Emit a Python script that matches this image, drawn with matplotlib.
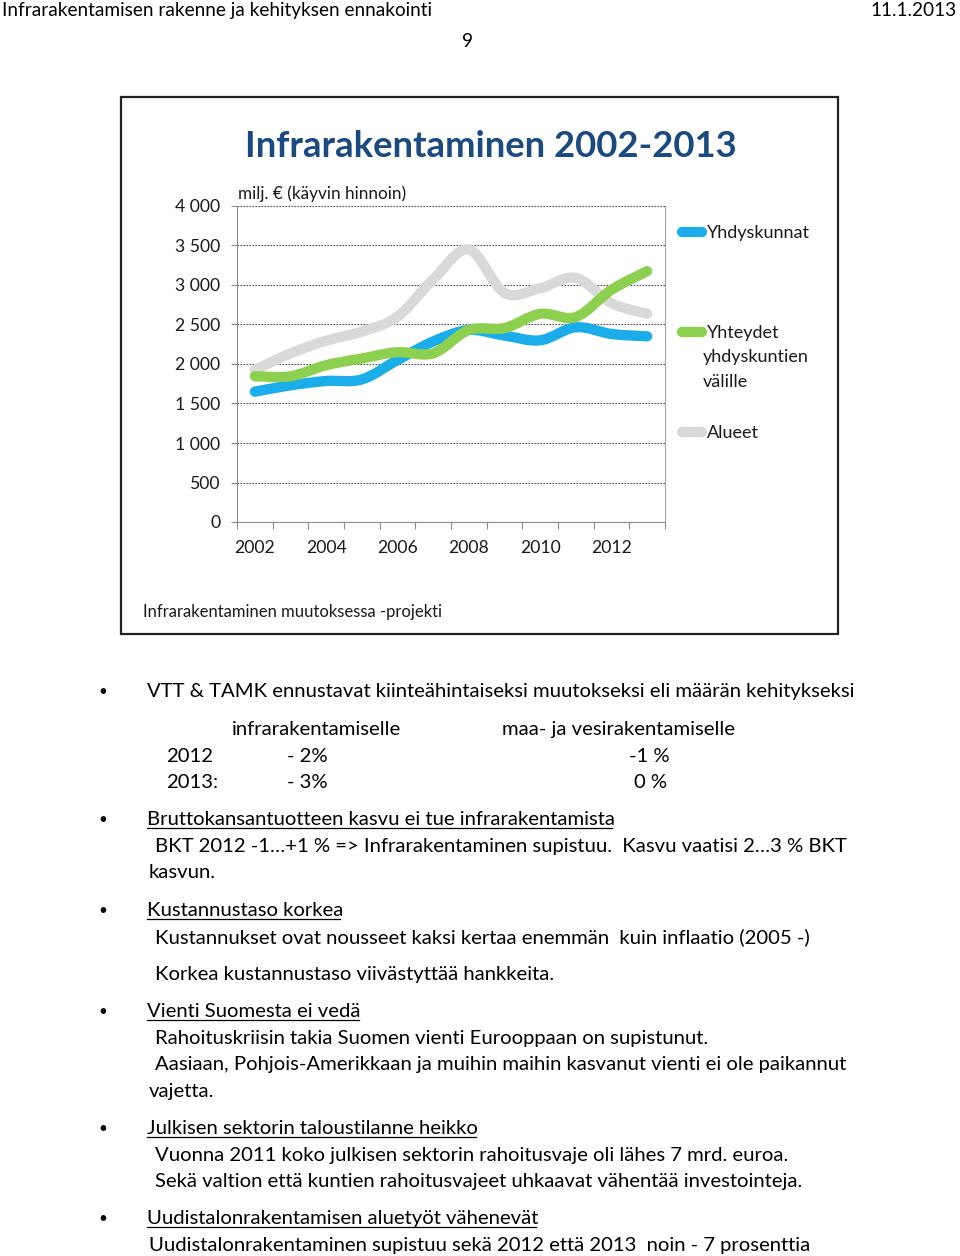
import matplotlib
matplotlib.use("Agg")
import matplotlib.pyplot as plt
import numpy as np
from matplotlib.font_manager import FontProperties
from matplotlib.lines import Line2D
from matplotlib.patches import PathPatch, Rectangle
from matplotlib.path import Path
from matplotlib.textpath import TextPath

# ── Data (milj. €, käyvin hinnoin) ──────────────────────────────────────────
YEARS = list(range(2002, 2014))
YHDYSKUNNAT = [1650, 1730, 1785, 1805, 2050, 2285, 2430, 2360, 2300, 2465, 2380, 2350]
YHTEYDET    = [1845, 1845, 1985, 2070, 2150, 2135, 2430, 2455, 2635, 2595, 2940, 3175]
ALUEET      = [1925, 2135, 2295, 2410, 2600, 3070, 3450, 2900, 2960, 3090, 2770, 2635]

Y_TICKS = [0, 500, 1000, 1500, 2000, 2500, 3000, 3500, 4000]
Y_TICK_LABELS = ["0", "500", "1 000", "1 500", "2 000", "2 500", "3 000", "3 500", "4 000"]
X_TICK_YEARS = [2002, 2004, 2006, 2008, 2010, 2012]

BLUE, GREEN, GRAY = "#1AADEA", "#8DD04F", "#D9D9D9"
NAVY = "#1B4A80"

W, H, DPI = 960, 1256, 100
FONT = ["Lato", "DejaVu Sans"]
plt.rcParams["font.family"] = FONT


def fx(x):
    return x / W


def fy(y):
    return 1 - y / H


def ink_width(s, size, weight="normal"):
    fp = FontProperties(family=FONT, weight=weight)
    w = TextPath((0, 0), s, size=100, prop=fp).get_extents().width
    return w * size / 100 * DPI / 72


def fit(s, width_px, weight="normal"):
    return width_px / ink_width(s, 100, weight) * 100


def smooth_path(xs, ys):
    # Excel-style smoothed line: Catmull-Rom segments as cubic Beziers
    pts = np.column_stack([xs, ys]).astype(float)
    p = np.vstack([pts[0], pts, pts[-1]])
    verts, codes = [pts[0]], [Path.MOVETO]
    for i in range(len(pts) - 1):
        p0, p1, p2, p3 = p[i], p[i + 1], p[i + 2], p[i + 3]
        verts += [p1 + (p2 - p0) / 6, p2 - (p3 - p1) / 6, p2]
        codes += [Path.CURVE4] * 3
    return Path(verts, codes)


fig = plt.figure(figsize=(W / DPI, H / DPI), dpi=DPI)
fig.patch.set_facecolor("white")


def put(x, y, s, size, **kw):
    kw.setdefault("va", "baseline")
    kw.setdefault("color", "black")
    return fig.text(fx(x), fy(y), s, fontsize=size, **kw)


# ── Page header ─────────────────────────────────────────────────────────────
hdr = fit("Infrarakentamisen rakenne ja kehityksen ennakointi", 427)
put(2, 16, "Infrarakentamisen rakenne ja kehityksen ennakointi", hdr)
put(957, 16, "11.1.2013", hdr, ha="right")
put(468, 47, "9", hdr, ha="center")

# ── Chart frame ─────────────────────────────────────────────────────────────
fig.add_artist(Rectangle((fx(121), fy(634)), (838 - 121) / W, (634 - 97) / H,
                         transform=fig.transFigure, fill=False, ec="#222222", lw=1.6))

title = "Infrarakentaminen 2002-2013"
put(491, 157, title, fit(title, 489, "bold"), ha="center", weight="bold", color=NAVY)

ax = fig.add_axes([fx(237), fy(522), (665 - 237) / W, (522 - 206) / H])
x = np.arange(len(YEARS))
for vals, col in [(ALUEET, GRAY), (YHDYSKUNNAT, BLUE), (YHTEYDET, GREEN)]:
    ax.add_patch(PathPatch(smooth_path(x, vals), fill=False, ec=col, lw=7.4,
                           capstyle="round", joinstyle="round", zorder=3))

ax.set_xlim(-0.5, len(YEARS) - 0.5)
ax.set_ylim(0, 4000)
ax.set_yticks(Y_TICKS)
ax.set_yticklabels(Y_TICK_LABELS)
ax.set_xticks([YEARS.index(y) for y in X_TICK_YEARS])
ax.set_xticklabels([str(y) for y in X_TICK_YEARS])
ax.set_xticks(np.arange(-0.5, len(YEARS)), minor=True)
tick_fs = fit("2002", 39)
ax.tick_params(axis="x", which="major", length=0, pad=13, labelsize=tick_fs, labelcolor="#1a1a1a")
ax.tick_params(axis="x", which="minor", length=5, color="#8c8c8c", width=0.8)
ax.tick_params(axis="y", length=4, color="#8c8c8c", width=0.8, pad=8,
               labelsize=tick_fs, labelcolor="#1a1a1a")
ax.grid(axis="y", color="#4d4d4d", linestyle=(0, (1.5, 1.2)), lw=0.8, zorder=1)
ax.spines["top"].set_visible(False)
ax.spines["right"].set_linestyle((0, (1, 1)))
ax.spines["right"].set_color("#a6a6a6")
ax.spines["left"].set_color("#8c8c8c")
ax.spines["bottom"].set_color("#8c8c8c")
ax.set_facecolor("white")

ylab = "milj. € (käyvin hinnoin)"
put(238, 199, ylab, fit(ylab, 165), color="#1a1a1a")
foot = "Infrarakentaminen muutoksessa -projekti"
put(143, 617, foot, fit(foot, 298), color="#1a1a1a")

# legend
leg_fs = fit("Yhdyskunnat", 103)
for (yy, col) in [(232, BLUE), (332, GREEN), (432, GRAY)]:
    fig.add_artist(Line2D([fx(682), fx(702)], [fy(yy), fy(yy)], transform=fig.transFigure,
                          color=col, lw=7.4, solid_capstyle="round"))
put(707, 238, "Yhdyskunnat", leg_fs, color="#1a1a1a")
put(707, 338, "Yhteydet", leg_fs, color="#1a1a1a")
put(703, 362, "yhdyskuntien", leg_fs, color="#1a1a1a")
put(703, 387, "välille", leg_fs, color="#1a1a1a")
put(707, 438, "Alueet", leg_fs, color="#1a1a1a")

# ── Bullet text ─────────────────────────────────────────────────────────────
lead = "VTT & TAMK ennustavat kiinteähintaiseksi muutokseksi eli määrän kehitykseksi"
fs = fit(lead, 706)

lines = [
    (147, 697, lead, True, False),
    (232, 735, "infrarakentamiselle", False, False),
    (502, 735, "maa- ja vesirakentamiselle", False, False),
    (166, 762, "2012", False, False),
    (287, 762, "- 2%", False, False),
    (629, 762, "-1 %", False, False),
    (166, 788, "2013:", False, False),
    (287, 788, "- 3%", False, False),
    (634, 788, "0 %", False, False),
    (147, 825, "Bruttokansantuotteen kasvu ei tue infrarakentamista", True, True),
    (155, 852, "BKT 2012 -1…+1 % => Infrarakentaminen supistuu.  Kasvu vaatisi 2…3 % BKT", False, False),
    (149, 878, "kasvun.", False, False),
    (147, 916, "Kustannustaso korkea", True, True),
    (155, 943, "Kustannukset ovat nousseet kaksi kertaa enemmän  kuin inflaatio (2005 -)", False, False),
    (155, 980, "Korkea kustannustaso viivästyttää hankkeita.", False, False),
    (147, 1017, "Vienti Suomesta ei vedä", True, True),
    (155, 1044, "Rahoituskriisin takia Suomen vienti Eurooppaan on supistunut.", False, False),
    (155, 1070, "Aasiaan, Pohjois-Amerikkaan ja muihin maihin kasvanut vienti ei ole paikannut", False, False),
    (149, 1097, "vajetta.", False, False),
    (147, 1134, "Julkisen sektorin taloustilanne heikko", True, True),
    (155, 1161, "Vuonna 2011 koko julkisen sektorin rahoitusvaje oli lähes 7 mrd. euroa.", False, False),
    (155, 1187, "Sekä valtion että kuntien rahoitusvajeet uhkaavat vähentää investointeja.", False, False),
    (147, 1224, "Uudistalonrakentamisen aluetyöt vähenevät", True, True),
    (149, 1251, "Uudistalonrakentaminen supistuu sekä 2012 että 2013  noin - 7 prosenttia", False, False),
]

for lx, ly, s, bullet, underline in lines:
    put(lx, ly, s, fs)
    if bullet:
        put(103, ly - 1, "•", fs * 0.75, ha="center")
    if underline:
        w = ink_width(s, fs)
        fig.add_artist(Line2D([fx(lx), fx(lx + w)], [fy(ly + 3), fy(ly + 3)],
                              transform=fig.transFigure, color="black", lw=0.9))

fig.savefig("out.png", dpi=DPI)
